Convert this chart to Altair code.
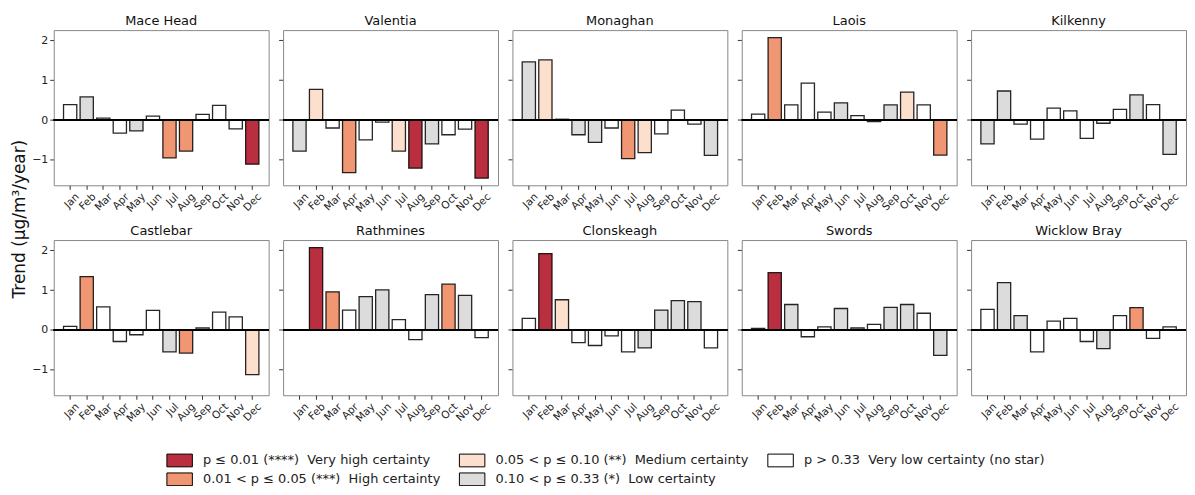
import altair as alt
import pandas as pd

stations = ["Mace Head", "Valentia", "Monaghan", "Laois", "Kilkenny",
            "Castlebar", "Rathmines", "Clonskeagh", "Swords", "Wicklow Bray"]
months = ["Jan", "Feb", "Mar", "Apr", "May", "Jun", "Jul", "Aug", "Sep", "Oct", "Nov", "Dec"]
y_ticks = [-1, 0, 1, 2]

mace_head = [0.39, 0.58, 0.05, -0.33, -0.27, 0.10, -0.95, -0.78, 0.14, 0.37, -0.22, -1.11]
valentia = [-0.78, 0.77, -0.20, -1.32, -0.50, -0.05, -0.78, -1.21, -0.60, -0.37, -0.23, -1.46]
monaghan = [1.46, 1.51, 0.02, -0.37, -0.56, -0.20, -0.97, -0.82, -0.35, 0.25, -0.10, -0.89]
laois = [0.15, 2.07, 0.38, 0.93, 0.20, 0.43, 0.11, -0.04, 0.38, 0.70, 0.38, -0.88]
kilkenny = [-0.60, 0.73, -0.10, -0.48, 0.30, 0.23, -0.46, -0.08, 0.27, 0.63, 0.39, -0.86]
castlebar = [0.09, 1.34, 0.58, -0.29, -0.12, 0.49, -0.55, -0.58, 0.05, 0.45, 0.33, -1.12]
rathmines = [0.005, 2.07, 0.96, 0.50, 0.84, 1.01, 0.26, -0.24, 0.89, 1.15, 0.87, -0.19]
clonskeagh = [0.29, 1.92, 0.76, -0.32, -0.39, -0.15, -0.55, -0.45, 0.50, 0.74, 0.71, -0.45]
swords = [0.04, 1.44, 0.64, -0.17, 0.08, 0.54, 0.05, 0.14, 0.57, 0.64, 0.42, -0.64]
wicklow_bray = [0.52, 1.19, 0.36, -0.55, 0.22, 0.29, -0.29, -0.47, 0.36, 0.56, -0.21, 0.08]

# certainty class per month: vh, h, m, l, n
mace_head_cls = ["n", "l", "n", "n", "l", "n", "h", "h", "n", "n", "n", "vh"]
valentia_cls = ["l", "m", "n", "h", "n", "n", "m", "vh", "l", "n", "n", "vh"]
monaghan_cls = ["l", "m", "n", "l", "l", "n", "h", "m", "n", "n", "n", "l"]
laois_cls = ["n", "h", "n", "n", "n", "l", "n", "n", "l", "m", "n", "h"]
kilkenny_cls = ["l", "l", "n", "n", "n", "n", "n", "n", "n", "l", "n", "l"]
castlebar_cls = ["n", "h", "n", "n", "n", "n", "l", "h", "n", "n", "n", "m"]
rathmines_cls = ["n", "vh", "h", "n", "l", "l", "n", "n", "l", "h", "l", "n"]
clonskeagh_cls = ["n", "vh", "m", "n", "n", "n", "n", "l", "l", "l", "l", "n"]
swords_cls = ["l", "vh", "l", "n", "n", "l", "n", "n", "l", "l", "n", "l"]
wicklow_bray_cls = ["n", "l", "l", "n", "n", "n", "n", "l", "n", "h", "n", "n"]

values = [mace_head, valentia, monaghan, laois, kilkenny,
          castlebar, rathmines, clonskeagh, swords, wicklow_bray]
classes = [mace_head_cls, valentia_cls, monaghan_cls, laois_cls, kilkenny_cls,
           castlebar_cls, rathmines_cls, clonskeagh_cls, swords_cls, wicklow_bray_cls]

class_labels = {
    "vh": "p \u2264 0.01 (****)\u00a0 Very high certainty",
    "h": "0.01 < p \u2264 0.05 (***)\u00a0 High certainty",
    "m": "0.05 < p \u2264 0.10 (**)\u00a0 Medium certainty",
    "l": "0.10 < p \u2264 0.33 (*)\u00a0 Low certainty",
    "n": "p > 0.33\u00a0 Very low certainty (no star)",
}
class_colors = {"vh": "#ba2f40", "h": "#f09672", "m": "#fddfcd", "l": "#dcdcdc", "n": "#ffffff"}
legend_order = ["vh", "h", "m", "l", "n"]

rows = []
for i, st in enumerate(stations):
    for j, mo in enumerate(months):
        rows.append({
            "station": st, "prow": i // 5, "pcol": i % 5,
            "month": mo, "trend": values[i][j],
            "cert": class_labels[classes[i][j]],
            # y tick value carried by the first four rows of each panel
            "ytick": y_ticks[j] if j < len(y_ticks) else None,
        })
df = pd.DataFrame(rows)

W, H = 216, 156
FONT = "DejaVu Sans"

bars = alt.Chart().mark_bar(stroke="black", strokeWidth=1.3, strokeOpacity=0.85).encode(
    x=alt.X("month:N", sort=months,
            scale=alt.Scale(paddingInner=0.2, paddingOuter=0.59),
            axis=alt.Axis(title=None, labelAngle=-45, labelFontSize=10.5, labelFont=FONT,
                          tickSize=4, tickColor="#333", domain=False, labelPadding=2,
                          labelColor="#222", labelOffset=4)),
    y=alt.Y("trend:Q",
            scale=alt.Scale(domain=[-1.64, 2.26], nice=False, zero=False),
            axis=alt.Axis(title=None, values=y_ticks, grid=False, domain=False,
                          tickSize=4, tickColor="#333", labelFontSize=11, labelFont=FONT,
                          labelColor="#222", format="d", labelPadding=2)),
    y2=alt.datum(0),
    color=alt.Color("cert:N",
                    scale=alt.Scale(domain=[class_labels[k] for k in legend_order],
                                    range=[class_colors[k] for k in legend_order]),
                    legend=alt.Legend(title=None, orient="none", columns=3,
                                      legendX=118, legendY=424,
                                      symbolType="M-1.6,-0.8H1.6V0.8H-1.6Z", symbolSize=256,
                                      symbolStrokeColor="black", symbolStrokeWidth=1,
                                      labelFontSize=13, labelFont=FONT, labelColor="#222",
                                      columnPadding=16, rowPadding=2, labelOffset=15,
                                      labelLimit=400)),
)

zero = alt.Chart().mark_rule(color="black", strokeWidth=1).encode(y=alt.datum(0))

# short y tick marks on the panels that carry no y axis labels
side_ticks = alt.Chart().transform_filter(
    (alt.datum.pcol > 0) & alt.expr.isValid(alt.datum.ytick)
).mark_rule(color="#333", strokeWidth=1).encode(
    x=alt.value(-4), x2=alt.value(0), y="ytick:Q"
)

titles = alt.Chart().transform_filter(alt.datum.month == "Jan").mark_text(
    fontSize=13, font=FONT, color="#111", baseline="alphabetic", align="center"
).encode(text="station:N", x=alt.value(W / 2), y=alt.value(-5))

chart = alt.layer(bars, zero, side_ticks, titles, data=df).properties(width=W, height=H).facet(
    row=alt.Row("prow:O", title="Trend (\u00b5g/m\u00b3/year)",
                header=alt.Header(labels=False, titleFontSize=17, titleFont=FONT,
                                  titleFontWeight="normal", titleColor="#111", titlePadding=-8)),
    column=alt.Column("pcol:O", title=None, header=alt.Header(labels=False)),
    spacing={"row": 55, "column": 14.5},
    bounds="flush",
).resolve_axis(x="independent").configure_view(
    stroke="#888", strokeWidth=1
).configure(
    padding={"left": 2, "top": 5, "right": 0, "bottom": -3},
    style={"cell": {"stroke": "#888", "strokeWidth": 1}},
)

chart.save("out.html", embed_options={"renderer": "svg", "actions": False})
